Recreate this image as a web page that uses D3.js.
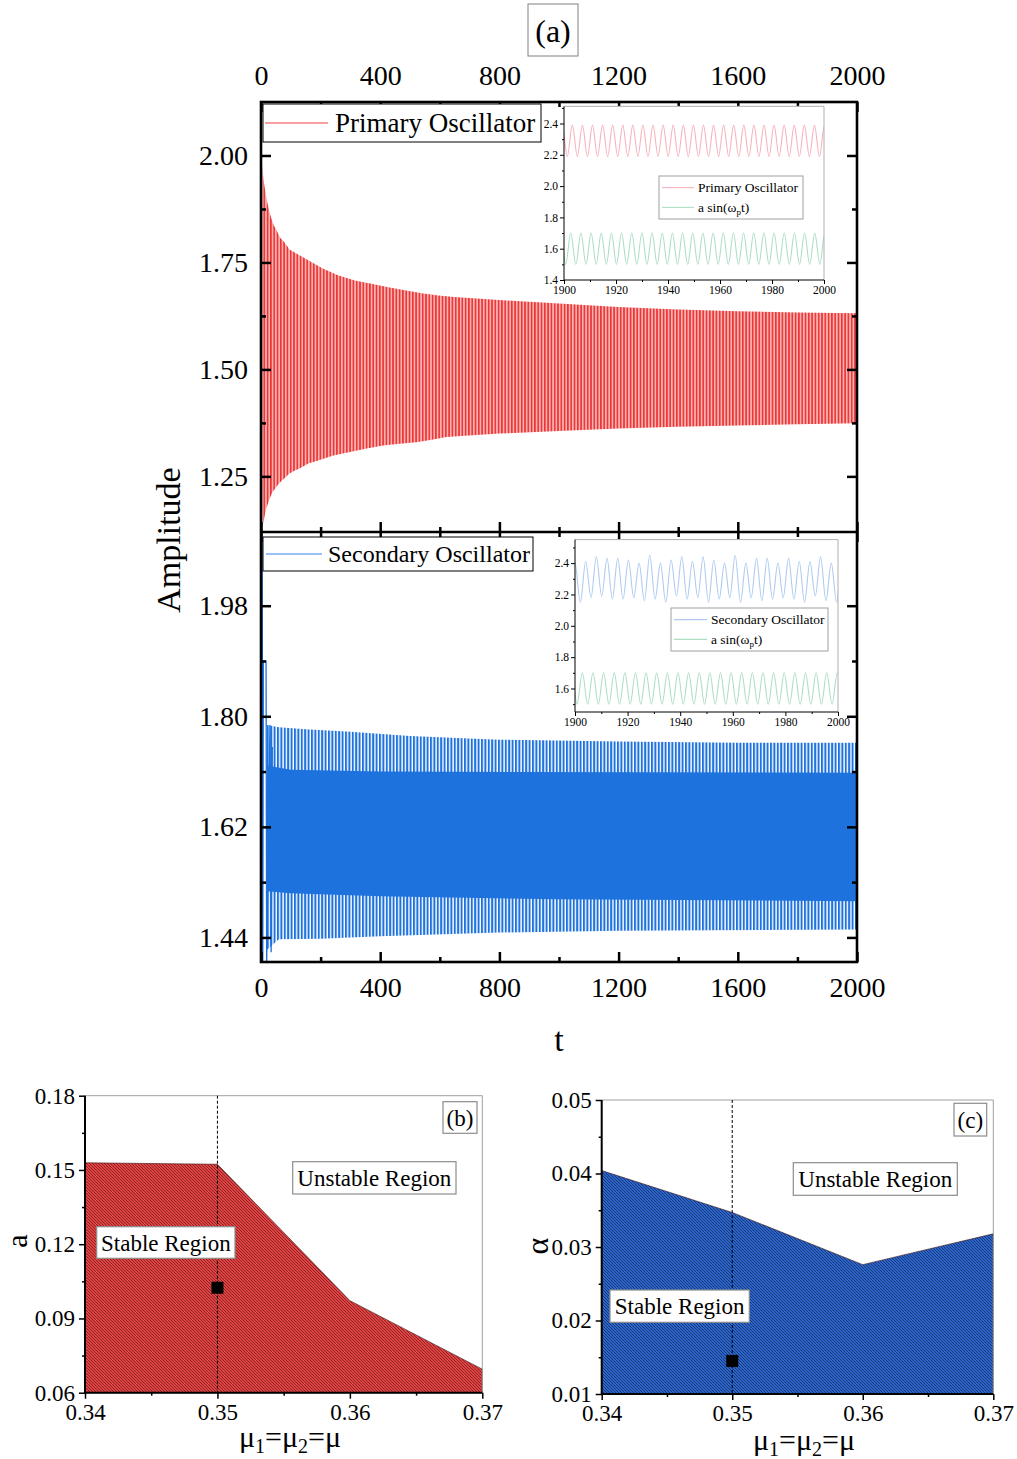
<!DOCTYPE html>
<html>
<head>
<meta charset="utf-8">
<script src="https://cdn.jsdelivr.net/npm/d3@7"></script>
<style>
  body { margin: 0; background: #fff; }
  svg { display: block; font-family: "Liberation Serif", "Times New Roman", serif; }
  svg text { font-family: "Liberation Serif", "Times New Roman", serif; }
</style>
</head>
<body>
<svg id="fig" width="1017" height="1459"></svg>
<script>
// ---------- panel (a): time responses ----------
const tTicks = [0, 400, 800, 1200, 1600, 2000];
const tMinorTicks = [200, 600, 1000, 1400, 1800];
const primaryTicks = [1.25, 1.50, 1.75, 2.00];
const primaryMinorTicks = [1.375, 1.625, 1.875];
const secondaryTicks = [1.44, 1.62, 1.80, 1.98];
const secondaryMinorTicks = [1.53, 1.71, 1.89];

// envelope of the primary oscillator response: [t, amplitude]
const primaryUpper = [[0, 2.00], [10, 1.935], [21, 1.89], [33, 1.856], [43, 1.837], [54, 1.823],
  [64, 1.808], [75, 1.80], [86, 1.79], [96, 1.78], [141, 1.762], [204, 1.737], [258, 1.72],
  [315, 1.708], [371, 1.70], [427, 1.692], [483, 1.685], [539, 1.678], [595, 1.673], [649, 1.669],
  [800, 1.662], [1000, 1.654], [1200, 1.646], [1400, 1.640], [1600, 1.636], [1800, 1.633], [2000, 1.631]];
const primaryLower = [[0, 1.125], [8, 1.143], [16, 1.171], [27, 1.194], [38, 1.213], [49, 1.223],
  [60, 1.233], [71, 1.241], [83, 1.248], [94, 1.256], [114, 1.264], [131, 1.269], [159, 1.280],
  [187, 1.286], [243, 1.299], [299, 1.307], [355, 1.315], [410, 1.322], [466, 1.326], [522, 1.330],
  [578, 1.336], [623, 1.342], [800, 1.350], [1000, 1.356], [1200, 1.362], [1400, 1.366],
  [1600, 1.369], [1800, 1.372], [2000, 1.374]];

// secondary oscillator: spike envelope (outer) and dense core (inner)
const secondaryOuterUpper = [[20, 1.786], [60, 1.782], [150, 1.779], [300, 1.775], [500, 1.768],
  [800, 1.762], [1200, 1.759], [1600, 1.757], [2000, 1.757]];
const secondaryOuterLower = [[20, 1.420], [60, 1.437], [200, 1.438], [400, 1.442], [800, 1.448],
  [1200, 1.451], [2000, 1.453]];
const secondaryInnerUpper = [[20, 1.720], [100, 1.713], [400, 1.710], [2000, 1.708]];
const secondaryInnerLower = [[20, 1.515], [100, 1.512], [400, 1.507], [1000, 1.502], [2000, 1.499]];
// start-up transient of the secondary oscillator
const secondaryTransient = [[0, 1.55], [1, 2.10], [3, 1.40], [4, 2.10], [6, 1.40], [8, 1.89],
  [17, 1.89], [19, 1.40], [30, 1.786], [34, 1.416], [38, 1.75]];

// insets, t = 1900..2000: extrema of each trace
const insetTicksX = [1900, 1920, 1940, 1960, 1980, 2000];
const insetMinorX = [1910, 1930, 1950, 1970, 1990];
const insetTicksY = [1.4, 1.6, 1.8, 2.0, 2.2, 2.4];
const insetMinorY = [1.5, 1.7, 1.9, 2.1, 2.3, 2.5];
const primaryInsetLevels = [2.19, 2.39];      // trough, peak
const primaryInsetTiming = [1899.32, 3.88];   // first peak, period
const primaryDriveLevels = [1.50, 1.70];
const primaryDriveTiming = [1898.69, 3.91];
const secondaryInsetPeaks = [2.40, 2.41, 2.44, 2.43, 2.43, 2.42, 2.40, 2.45, 2.40, 2.42, 2.44, 2.41, 2.44,
  2.42, 2.40, 2.45, 2.40, 2.43, 2.43, 2.40, 2.43, 2.41, 2.41, 2.44, 2.40, 2.42];
const secondaryInsetTroughs = [2.17, 2.15, 2.18, 2.19, 2.17, 2.17, 2.18, 2.16, 2.17, 2.15, 2.19, 2.17, 2.18,
  2.15, 2.17, 2.18, 2.15, 2.18, 2.16, 2.17, 2.18, 2.17, 2.15, 2.19, 2.16, 2.15, 2.17];
const secondaryInsetTiming = [1900.0, 4.06];
const secondaryDriveLevels = [1.50, 1.70];
const secondaryDriveTiming = [1898.76, 4.04];

// ---------- panels (b), (c): stability boundaries ----------
const muValues = [0.34, 0.35, 0.36, 0.37];
const muTicks = [0.34, 0.35, 0.36, 0.37];
const muMinorTicks = [0.345, 0.355, 0.365];
const aBoundary = [0.1529, 0.1523, 0.0972, 0.0695];
const aTicks = [0.06, 0.09, 0.12, 0.15, 0.18];
const aMinorTicks = [0.075, 0.105, 0.135, 0.165];
const aSelected = [0.35, 0.1024];
const alphaBoundary = [0.0404, 0.0347, 0.0276, 0.0318];
const alphaTicks = [0.01, 0.02, 0.03, 0.04, 0.05];
const alphaMinorTicks = [0.015, 0.025, 0.035, 0.045];
const alphaSelected = [0.35, 0.0145];

// ============================================================
const svg = d3.select('#fig');
const defs = svg.append('defs');
const FONT = '"Liberation Serif", "Times New Roman", serif';

const xT = d3.scaleLinear().domain([0, 2000]).range([261, 857]);
const yP = d3.scaleLinear().domain([1.12, 2.125]).range([532, 102]);
const yS = d3.scaleLinear().domain([1.40, 2.10]).range([962, 532]);

function stripePattern(id, step, stripeW, bg, fg, x0) {
  const p = defs.append('pattern').attr('id', id).attr('patternUnits', 'userSpaceOnUse')
    .attr('width', step).attr('height', 20).attr('x', x0).attr('y', 0);
  p.append('rect').attr('width', step).attr('height', 20).attr('fill', bg);
  p.append('rect').attr('width', stripeW).attr('height', 20).attr('fill', fg);
}
function hatchPattern(id, bg, fg) {
  const p = defs.append('pattern').attr('id', id).attr('patternUnits', 'userSpaceOnUse')
    .attr('width', 3).attr('height', 3);
  p.append('rect').attr('width', 3).attr('height', 3).attr('fill', bg);
  p.append('path').attr('d', 'M-1,-1L4,4M-1,2L1,4M2,-1L4,1')
    .attr('stroke', fg).attr('stroke-width', 0.8);
}
stripePattern('primaryStripes', 3.3, 1.6, '#f8b0b0', '#ec3535', xT(0) - 0.8);
stripePattern('secondaryStripes', 3.4, 2.0, '#ffffff', '#1d72de', xT(0) - 1.0);
hatchPattern('redHatch', '#e04444', '#7a1a1a');
hatchPattern('blueHatch', '#2d66c8', '#0f2c6a');

function clip(id, x, y, w, h) {
  defs.append('clipPath').attr('id', id).append('rect')
    .attr('x', x).attr('y', y).attr('width', w).attr('height', h);
  return `url(#${id})`;
}

function bandPath(upper, lower, xs, ys) {
  const line = d3.line().x(d => xs(d[0])).y(d => ys(d[1]));
  return line(upper.concat(lower.slice().reverse())) + 'Z';
}

function styleAxis(g, size, sw) {
  g.select('.domain').remove();
  g.attr('font-family', FONT).attr('font-size', size);
  g.selectAll('.tick line').attr('stroke', '#000').attr('stroke-width', sw);
  g.selectAll('.tick text').attr('fill', '#000').attr('font-family', FONT);
  return g;
}
function addAxis(gen, transform, size, sw) {
  return styleAxis(svg.append('g').attr('transform', transform).call(gen), size, sw);
}

// ---------- data of panel (a) ----------
const topData = svg.append('g').attr('clip-path', clip('clipTop', 261, 102, 596, 430));
topData.append('path').attr('d', bandPath(primaryUpper, primaryLower, xT, yP))
  .attr('fill', 'url(#primaryStripes)');

const botData = svg.append('g').attr('clip-path', clip('clipBot', 261, 532, 596, 430));
botData.append('path').attr('d', bandPath(secondaryOuterUpper, secondaryOuterLower, xT, yS))
  .attr('fill', 'url(#secondaryStripes)');
botData.append('path').attr('d', bandPath(secondaryInnerUpper, secondaryInnerLower, xT, yS))
  .attr('fill', '#1d72de');
botData.append('path')
  .attr('d', d3.line().x(d => xT(d[0])).y(d => yS(d[1]))(secondaryTransient))
  .attr('fill', 'none').attr('stroke', '#1d72de').attr('stroke-width', 1.3);

// ---------- axes of panel (a): ticks point inward ----------
const f2 = d3.format('.2f');
const fInt = d3.format('d');
addAxis(d3.axisTop(xT).tickValues(tTicks).tickSize(-10).tickPadding(17).tickFormat(fInt), 'translate(0,102)', 28, 2.5);
addAxis(d3.axisTop(xT).tickValues(tMinorTicks).tickSize(-5).tickFormat(''), 'translate(0,102)', 28, 2.5);
addAxis(d3.axisBottom(xT).tickValues(tTicks).tickSize(-10).tickFormat(''), 'translate(0,532)', 28, 2.5);
addAxis(d3.axisBottom(xT).tickValues(tMinorTicks).tickSize(-5).tickFormat(''), 'translate(0,532)', 28, 2.5);
addAxis(d3.axisTop(xT).tickValues(tTicks).tickSize(-10).tickFormat(''), 'translate(0,532)', 28, 2.5);
addAxis(d3.axisTop(xT).tickValues(tMinorTicks).tickSize(-5).tickFormat(''), 'translate(0,532)', 28, 2.5);
addAxis(d3.axisBottom(xT).tickValues(tTicks).tickSize(-10).tickPadding(15.5).tickFormat(fInt), 'translate(0,962)', 28, 2.5);
addAxis(d3.axisBottom(xT).tickValues(tMinorTicks).tickSize(-5).tickFormat(''), 'translate(0,962)', 28, 2.5);

addAxis(d3.axisLeft(yP).tickValues(primaryTicks).tickSize(-10).tickPadding(13).tickFormat(f2), 'translate(261,0)', 28, 2.5);
addAxis(d3.axisLeft(yP).tickValues(primaryMinorTicks).tickSize(-5).tickFormat(''), 'translate(261,0)', 28, 2.5);
addAxis(d3.axisRight(yP).tickValues(primaryTicks).tickSize(-10).tickFormat(''), 'translate(857,0)', 28, 2.5);
addAxis(d3.axisRight(yP).tickValues(primaryMinorTicks).tickSize(-5).tickFormat(''), 'translate(857,0)', 28, 2.5);
addAxis(d3.axisLeft(yS).tickValues(secondaryTicks).tickSize(-10).tickPadding(13).tickFormat(f2), 'translate(261,0)', 28, 2.5);
addAxis(d3.axisLeft(yS).tickValues(secondaryMinorTicks).tickSize(-5).tickFormat(''), 'translate(261,0)', 28, 2.5);
addAxis(d3.axisRight(yS).tickValues(secondaryTicks).tickSize(-10).tickFormat(''), 'translate(857,0)', 28, 2.5);
addAxis(d3.axisRight(yS).tickValues(secondaryMinorTicks).tickSize(-5).tickFormat(''), 'translate(857,0)', 28, 2.5);

// ---------- legends of panel (a) ----------
function mainLegend(x, y, w, h, color, label, size, lx0, lx1, tx) {
  svg.append('rect').attr('x', x).attr('y', y).attr('width', w).attr('height', h)
    .attr('fill', '#fff').attr('stroke', '#000').attr('stroke-width', 1);
  svg.append('line').attr('x1', lx0).attr('x2', lx1).attr('y1', y + h / 2).attr('y2', y + h / 2)
    .attr('stroke', color).attr('stroke-width', 1.6);
  svg.append('text').attr('x', tx).attr('y', y + h / 2 + size * 0.34).attr('font-size', size)
    .text(label);
}
mainLegend(263, 104, 278, 38, '#f27f7f', 'Primary Oscillator', 27, 265, 328, 335);
mainLegend(263, 537, 270, 34, '#78acec', 'Secondary Oscillator', 24, 266, 322, 328);

// ---------- insets ----------
function extrema(timing, peaks, troughs) {
  // troughs[i] lies half a period before peaks[i]; one extra trough closes the last cycle
  const [t0, period] = timing;
  const pts = [];
  peaks.forEach((p, i) => {
    pts.push([t0 + (i - 0.5) * period, troughs[i]]);
    pts.push([t0 + i * period, p]);
  });
  pts.push([t0 + (peaks.length - 0.5) * period, troughs[peaks.length]]);
  return pts;
}
function steady(timing, levels, cycles) {
  return extrema(timing, Array(cycles).fill(levels[1]), Array(cycles + 1).fill(levels[0]));
}

function inset(id, box, yDomain, traces, legend) {
  const [x0, x1, yTop, yBot] = box;
  const xs = d3.scaleLinear().domain([1900, 2000]).range([x0, x1]);
  const ys = d3.scaleLinear().domain(yDomain).range([yBot, yTop]);
  const g = svg.append('g');
  g.append('rect').attr('x', x0).attr('y', yTop).attr('width', x1 - x0).attr('height', yBot - yTop)
    .attr('fill', '#fff');
  const dg = g.append('g').attr('clip-path', clip(id, x0, yTop, x1 - x0, yBot - yTop));
  const line = d3.line().x(d => xs(d[0])).y(d => ys(d[1])).curve(d3.curveMonotoneX);
  traces.forEach(tr => {
    dg.append('path').attr('d', line(tr.points)).attr('fill', 'none')
      .attr('stroke', tr.color).attr('stroke-width', 1.1);
  });
  // frame: grey top/right, black axes
  g.append('path').attr('d', `M${x0},${yTop}H${x1}V${yBot}`).attr('fill', 'none')
    .attr('stroke', '#b0b0b0').attr('stroke-width', 1);
  g.append('path').attr('d', `M${x0},${yTop}V${yBot}H${x1}`).attr('fill', 'none')
    .attr('stroke', '#000').attr('stroke-width', 1);
  addAxis(d3.axisBottom(xs).tickValues(insetTicksX).tickSize(4).tickPadding(2).tickFormat(d3.format('d')),
    `translate(0,${yBot})`, 11.5, 1);
  addAxis(d3.axisBottom(xs).tickValues(insetMinorX).tickSize(2).tickFormat(''), `translate(0,${yBot})`, 11, 1);
  addAxis(d3.axisLeft(ys).tickValues(insetTicksY.filter(v => v >= yDomain[0] - 1e-9 && v <= yDomain[1]))
    .tickSize(4).tickPadding(2).tickFormat(d3.format('.1f')), `translate(${x0},0)`, 11.5, 1);
  addAxis(d3.axisLeft(ys).tickValues(insetMinorY.filter(v => v >= yDomain[0] && v <= yDomain[1]))
    .tickSize(2).tickFormat(''), `translate(${x0},0)`, 11, 1);

  // legend
  const [lx, ly, lw, lh, lineX0, lineX1, textX] = legend.box;
  g.append('rect').attr('x', lx).attr('y', ly).attr('width', lw).attr('height', lh)
    .attr('fill', '#fff').attr('stroke', '#a0a0a0').attr('stroke-width', 1);
  traces.forEach((tr, i) => {
    const cy = ly + lh * (0.27 + 0.46 * i);
    g.append('line').attr('x1', lineX0).attr('x2', lineX1).attr('y1', cy).attr('y2', cy)
      .attr('stroke', tr.color).attr('stroke-width', 1.1);
    const tx = g.append('text').attr('x', textX).attr('y', cy + 4.6).attr('font-size', 13.5);
    if (tr.sub) {
      tx.append('tspan').text('a sin(ω');
      tx.append('tspan').attr('font-size', 9).attr('dy', 3).text('p');
      tx.append('tspan').attr('dy', -3).text('t)');
    } else {
      tx.text(tr.label);
    }
  });
}

inset('clipInset1', [564, 824, 106.3, 280], [1.4, 2.51], [
  { points: steady(primaryInsetTiming, primaryInsetLevels, 27), color: '#f7b3bc', label: 'Primary Oscillator' },
  { points: steady(primaryDriveTiming, primaryDriveLevels, 27), color: '#addfc5', sub: true }
], { box: [659, 176, 144, 43, 662, 694, 698] });

inset('clipInset2', [575, 838, 539.6, 712], [1.45, 2.55], [
  { points: extrema(secondaryInsetTiming, secondaryInsetPeaks, secondaryInsetTroughs), color: '#afcbf2', label: 'Secondary Oscillator' },
  { points: steady(secondaryDriveTiming, secondaryDriveLevels, 26), color: '#addfc5', sub: true }
], { box: [671, 608, 157, 43, 674, 707, 711] });

// frame of panel (a)
svg.append('rect').attr('x', 261).attr('y', 102).attr('width', 596).attr('height', 860)
  .attr('fill', 'none').attr('stroke', '#000').attr('stroke-width', 2.6);
svg.append('line').attr('x1', 261).attr('x2', 857).attr('y1', 532).attr('y2', 532)
  .attr('stroke', '#000').attr('stroke-width', 2.6);

// titles of panel (a)
svg.append('rect').attr('x', 528).attr('y', 4).attr('width', 50).attr('height', 52)
  .attr('fill', '#fff').attr('stroke', '#808080').attr('stroke-width', 1);
svg.append('text').attr('x', 553).attr('y', 42).attr('font-size', 32).attr('text-anchor', 'middle').text('(a)');
svg.append('text').attr('transform', 'translate(180,540) rotate(-90)').attr('font-size', 34)
  .attr('text-anchor', 'middle').text('Amplitude');
svg.append('text').attr('x', 559).attr('y', 1051).attr('font-size', 34).attr('text-anchor', 'middle').text('t');

// ---------- panels (b) and (c) ----------
function muTitle(cx, baseline) {
  const t = svg.append('text').attr('x', cx).attr('y', baseline).attr('font-size', 30)
    .attr('text-anchor', 'middle');
  t.append('tspan').text('μ');
  t.append('tspan').attr('font-size', 20).attr('dy', 6).text('1');
  t.append('tspan').attr('dy', -6).text('=μ');
  t.append('tspan').attr('font-size', 20).attr('dy', 6).text('2');
  t.append('tspan').attr('dy', -6).text('=μ');
}
function labelBox(x, y, w, h, text) {
  svg.append('rect').attr('x', x).attr('y', y).attr('width', w).attr('height', h)
    .attr('fill', '#fff').attr('stroke', '#8c8c8c').attr('stroke-width', 1.2);
  svg.append('text').attr('x', x + w / 2).attr('y', y + h / 2 + 8).attr('font-size', 23)
    .attr('text-anchor', 'middle').text(text);
}

function regionPanel(opt) {
  const xs = d3.scaleLinear().domain([0.34, 0.37]).range(opt.xRange);
  const ys = d3.scaleLinear().domain(opt.yDomain).range(opt.yRange);
  const [xl, xr] = opt.xRange, [yb, yt] = opt.yRange;
  const area = d3.area().x((d, i) => xs(muValues[i])).y0(yb).y1(d => ys(d));
  svg.append('path').attr('d', area(opt.boundary)).attr('fill', `url(#${opt.hatch})`)
    .attr('stroke', '#3a1010').attr('stroke-width', 0.6);
  // grey top/right frame
  svg.append('path').attr('d', `M${xl},${yt}H${xr}V${yb}`).attr('fill', 'none')
    .attr('stroke', '#a0a0a0').attr('stroke-width', 1);
  // dashed guide at the selected μ and the selected operating point
  svg.append('line').attr('x1', xs(opt.selected[0])).attr('x2', xs(opt.selected[0]))
    .attr('y1', yt).attr('y2', yb).attr('stroke', '#000').attr('stroke-width', 1)
    .attr('stroke-dasharray', '3,2');
  svg.append('rect').attr('x', xs(opt.selected[0]) - 6).attr('y', ys(opt.selected[1]) - 6)
    .attr('width', 12).attr('height', 12).attr('fill', '#000');
  // axes, ticks pointing outward
  addAxis(d3.axisBottom(xs).tickValues(muTicks).tickSize(6).tickPadding(5).tickFormat(d3.format('.2f')),
    `translate(0,${yb})`, 23, 1.5);
  addAxis(d3.axisBottom(xs).tickValues(muMinorTicks).tickSize(3).tickFormat(''), `translate(0,${yb})`, 23, 1.5);
  addAxis(d3.axisLeft(ys).tickValues(opt.ticks).tickSize(6).tickPadding(4).tickFormat(d3.format('.2f')),
    `translate(${xl},0)`, 23, 1.5);
  addAxis(d3.axisLeft(ys).tickValues(opt.minor).tickSize(3).tickFormat(''), `translate(${xl},0)`, 23, 1.5);
  svg.append('path').attr('d', `M${xl},${yt}V${yb}H${xr}`).attr('fill', 'none')
    .attr('stroke', '#000').attr('stroke-width', 2);
  opt.boxes.forEach(b => labelBox(...b));
  svg.append('text').attr('transform', `translate(${opt.yTitle[0]},${opt.yTitle[1]}) rotate(-90)`)
    .attr('font-size', opt.yTitleSize).attr('text-anchor', 'middle').text(opt.yLabel);
  muTitle(opt.xTitle[0], opt.xTitle[1]);
}

regionPanel({
  xRange: [85, 482.3], yDomain: [0.06, 0.18], yRange: [1392.7, 1095.7],
  boundary: aBoundary, hatch: 'redHatch', selected: aSelected,
  ticks: aTicks, minor: aMinorTicks, yLabel: 'a', yTitle: [27, 1241], yTitleSize: 30, xTitle: [290, 1447],
  boxes: [[292.7, 1161.7, 163.3, 32.3, 'Unstable Region'], [96.7, 1226.7, 138.3, 31.6, 'Stable Region'],
    [443, 1101.7, 34, 31.6, '(b)']]
});
regionPanel({
  xRange: [601.7, 993.3], yDomain: [0.01, 0.05], yRange: [1394, 1100],
  boundary: alphaBoundary, hatch: 'blueHatch', selected: alphaSelected,
  ticks: alphaTicks, minor: alphaMinorTicks, yLabel: 'α', yTitle: [548, 1246], yTitleSize: 32, xTitle: [804, 1450],
  boxes: [[793.3, 1162.7, 164, 32.6, 'Unstable Region'], [610, 1290, 139.3, 32.3, 'Stable Region'],
    [954, 1103.3, 32.7, 32.7, '(c)']]
});
</script>
</body>
</html>
